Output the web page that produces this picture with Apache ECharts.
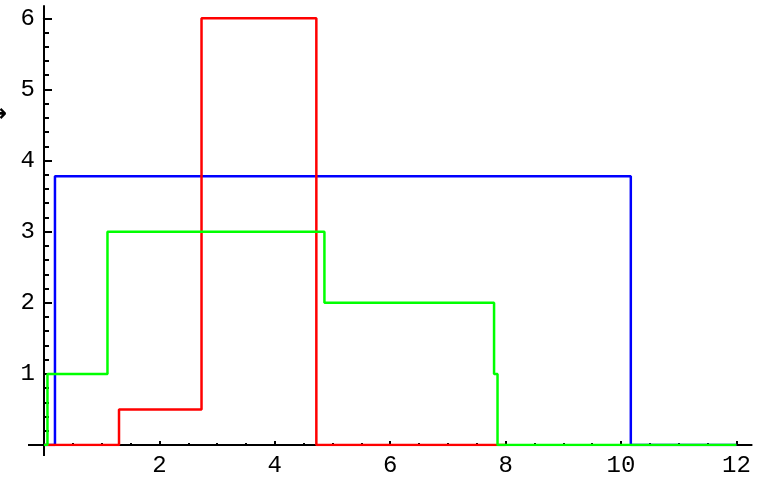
<!DOCTYPE html>
<html>
<head>
    <meta charset="UTF-8"/>
    <title>Step functions</title>
    <script src="https://cdn.jsdelivr.net/npm/echarts@6/dist/echarts.min.js"></script>
    <style>
        html, body { margin: 0; padding: 0; background: #fff; }
        #charts { width: 760px; height: 478px; }
    </style>
</head>
<body>
<div id="charts"></div>
<script>
    // step breakpoints: value y[i] holds from x[i] up to x[i+1]
    var blueX = [0, 0.19, 10.17, 12];
    var blueY = [0, 3.78, 0, 0];
    var redX = [0, 1.3, 2.73, 4.72, 8];
    var redY = [0, 0.5, 6, 0, 0];
    var greenX = [0, 0.06, 1.1, 4.86, 7.8, 7.86, 12];
    var greenY = [0, 1, 3, 2, 1, 0, 0];
    var xTicks = [0, 2, 4, 6, 8, 10, 12];
    var yTicks = [0, 1, 2, 3, 4, 5, 6];

    function pairs(xs, ys) {
        return xs.map(function (x, i) { return [x, ys[i]]; });
    }

    var labelFont = {
        fontFamily: 'Liberation Mono',
        fontSize: 24,
        color: '#000'
    };

    var myChart = echarts.init(document.getElementById('charts'));

    function stepSeries(name, color, data) {
        return {
            name: name,
            type: 'line',
            step: 'end',
            symbol: 'none',
            animation: false,
            lineStyle: { color: color, width: 2.5 },
            data: data
        };
    }

    var option = {
        animation: false,
        grid: { left: 44, right: 23.6, top: 18.3, bottom: 32 },
        xAxis: {
            type: 'value',
            min: xTicks[0],
            max: xTicks[xTicks.length - 1],
            interval: 2,
            splitLine: { show: false },
            axisLine: { onZero: true, lineStyle: { color: '#000', width: 2 } },
            axisTick: { inside: true, length: 4, lineStyle: { color: '#000', width: 2 } },
            minorTick: { show: true, splitNumber: 4, length: 2, lineStyle: { color: '#000', width: 2 } },
            axisLabel: Object.assign({
                margin: 9,
                formatter: function (v) { return v === 0 ? '' : String(v); }
            }, labelFont)
        },
        yAxis: {
            type: 'value',
            min: yTicks[0],
            max: yTicks[yTicks.length - 1],
            interval: 1,
            splitLine: { show: false },
            axisLine: { onZero: true, lineStyle: { color: '#000', width: 2 } },
            axisTick: { inside: true, length: 8, lineStyle: { color: '#000', width: 2 } },
            minorTick: { show: true, splitNumber: 5, length: 5, lineStyle: { color: '#000', width: 2 } },
            axisLabel: Object.assign({
                margin: 9,
                formatter: function (v) { return v === 0 ? '' : String(v); }
            }, labelFont)
        },
        series: [
            stepSeries('blue', '#0000ff', pairs(blueX, blueY)),
            stepSeries('red', '#ff0000', pairs(redX, redY)),
            stepSeries('green', '#00ff00', pairs(greenX, greenY))
        ]
    };
    myChart.setOption(option);

    // axis lines run a little past the origin and the last ticks, as in the original
    var o = myChart.convertToPixel({ gridIndex: 0 }, [0, 0]);
    var xEnd = myChart.convertToPixel({ gridIndex: 0 }, [12, 6]);
    var axisStyle = { stroke: '#000', lineWidth: 2 };
    myChart.setOption({
        graphic: [
            { type: 'line', shape: { x1: o[0] - 16, y1: o[1], x2: o[0], y2: o[1] }, style: axisStyle },
            { type: 'line', shape: { x1: xEnd[0], y1: o[1], x2: xEnd[0] + 16, y2: o[1] }, style: axisStyle },
            { type: 'line', shape: { x1: o[0], y1: o[1], x2: o[0], y2: o[1] + 11 }, style: axisStyle },
            { type: 'line', shape: { x1: o[0], y1: xEnd[1] - 13, x2: o[0], y2: xEnd[1] }, style: axisStyle },
            {
                type: 'text', left: -13, top: 103,
                style: { text: '→', fill: '#000', font: 'bold 24px DejaVu Sans' }
            }
        ]
    });
</script>
</body>
</html>
